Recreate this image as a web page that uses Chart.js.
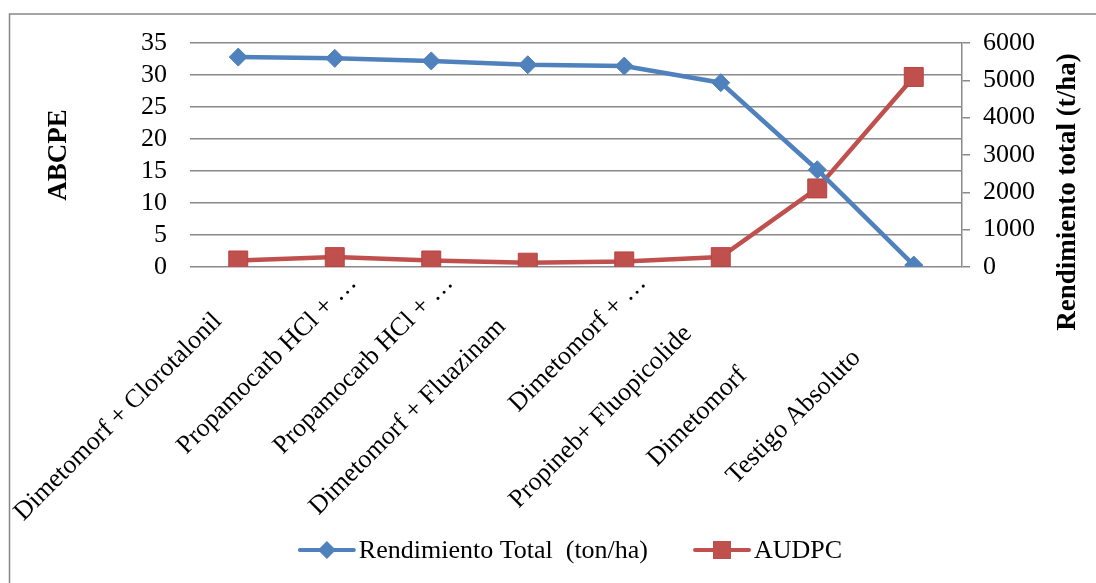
<!DOCTYPE html>
<html>
<head>
<meta charset="utf-8">
<script src="https://cdn.jsdelivr.net/npm/chart.js@4/dist/chart.umd.min.js"></script>
<style>
  html, body { margin: 0; padding: 0; background: #ffffff; }
  #wrap { width: 1096px; height: 583px; }
</style>
</head>
<body>
<div id="wrap"><canvas id="c" width="1096" height="583"></canvas></div>
<script>
const categories = [
  "Dimetomorf + Clorotalonil",
  "Propamocarb HCl + …",
  "Propamocarb HCl + …",
  "Dimetomorf + Fluazinam",
  "Dimetomorf + …",
  "Propineb+ Fluopicolide",
  "Dimetomorf",
  "Testigo Absoluto"
];
const rendimientoTotal = [32.8, 32.6, 32.2, 31.6, 31.4, 28.8, 15.2, 0.3];
const audpc = [175, 265, 175, 115, 150, 265, 2105, 5090];
const leftTicks = [0, 5, 10, 15, 20, 25, 30, 35];
const rightTicks = [0, 1000, 2000, 3000, 4000, 5000, 6000];
const seriesNames = ["Rendimiento Total  (ton/ha)", "AUDPC"];
const leftTitle = "ABCPE";
const rightTitle = "Rendimiento total (t/ha)";

const SERIF = '"Liberation Serif", "Times New Roman", serif';
const BLUE = '#4f81bd';
const RED = '#c0504d';
const GRID = '#8a8a8a';

const decor = {
  id: 'decor',
  beforeDraw(chart) {
    const ctx = chart.ctx;
    ctx.save();
    ctx.fillStyle = '#ffffff';
    ctx.fillRect(0, 0, chart.width, chart.height);
    ctx.strokeStyle = '#868686';
    ctx.lineWidth = 1.5;
    ctx.strokeRect(9.5, 14, chart.width + 20, chart.height + 20);
    ctx.restore();
  },
  afterDraw(chart) {
    const ctx = chart.ctx;
    const xs = chart.scales.x;
    const area = chart.chartArea;
    ctx.save();
    ctx.fillStyle = '#000000';
    // category labels, rotated 45 degrees
    ctx.font = '26px ' + SERIF;
    ctx.textBaseline = 'middle';
    categories.forEach((lab, i) => {
      const tx = xs.getPixelForValue(i);
      const lineC = tx + area.bottom + 30;
      const trunc = lab.endsWith('…');
      const cy = trunc ? area.bottom + 12 : area.bottom + 150;
      const cx = lineC - cy;
      ctx.save();
      ctx.translate(cx, cy);
      ctx.rotate(-Math.PI / 4);
      ctx.textAlign = trunc ? 'right' : 'center';
      ctx.fillText(lab, 0, 0);
      ctx.restore();
    });
    // axis titles
    ctx.font = 'bold 27px ' + SERIF;
    ctx.textAlign = 'center';
    ctx.textBaseline = 'middle';
    ctx.save();
    ctx.translate(59, (area.top + area.bottom) / 2);
    ctx.rotate(-Math.PI / 2);
    ctx.fillText(leftTitle, 0, 0);
    ctx.restore();
    ctx.save();
    ctx.translate(1068, (area.top + area.bottom) / 2 + 37);
    ctx.rotate(-Math.PI / 2);
    ctx.fillText(rightTitle, 0, 0);
    ctx.restore();
    // legend
    ctx.font = '26px ' + SERIF;
    const w1 = ctx.measureText(seriesNames[0]).width;
    const w2 = ctx.measureText(seriesNames[1]).width;
    const sample = 58, gap = 3, between = 45;
    const total = sample + gap + w1 + between + sample + gap + w2;
    let x = 570 - total / 2;
    const ly = 550;
    const drawSample = (x0, color, shape) => {
      ctx.strokeStyle = color;
      ctx.lineWidth = 4;
      ctx.lineCap = 'round';
      ctx.beginPath();
      ctx.moveTo(x0 + 2, ly);
      ctx.lineTo(x0 + sample - 2, ly);
      ctx.stroke();
      ctx.fillStyle = color;
      const mx = x0 + sample / 2;
      ctx.beginPath();
      if (shape === 'diamond') {
        ctx.moveTo(mx - 9, ly); ctx.lineTo(mx, ly - 9); ctx.lineTo(mx + 9, ly); ctx.lineTo(mx, ly + 9);
      } else {
        ctx.rect(mx - 9, ly - 9, 18, 18);
      }
      ctx.closePath();
      ctx.fill();
    };
    drawSample(x, BLUE, 'diamond');
    x += sample + gap;
    ctx.fillStyle = '#000000';
    ctx.textAlign = 'left';
    ctx.fillText(seriesNames[0], x, ly + 1);
    x += w1 + between;
    drawSample(x, RED, 'square');
    x += sample + gap;
    ctx.fillStyle = '#000000';
    ctx.fillText(seriesNames[1], x, ly + 1);
    ctx.restore();
  }
};

new Chart(document.getElementById('c'), {
  type: 'line',
  data: {
    labels: categories,
    datasets: [
      {
        label: seriesNames[0],
        data: rendimientoTotal,
        yAxisID: 'y',
        borderColor: BLUE,
        backgroundColor: BLUE,
        borderWidth: 4.5,
        pointStyle: 'rectRot',
        pointRadius: 9,
        pointBackgroundColor: BLUE,
        pointBorderColor: BLUE,
        pointBorderWidth: 1,
        tension: 0,
        fill: false
      },
      {
        label: seriesNames[1],
        data: audpc,
        yAxisID: 'y1',
        borderColor: RED,
        backgroundColor: RED,
        borderWidth: 4.5,
        pointStyle: 'rect',
        pointRadius: 13.4,
        pointBackgroundColor: RED,
        pointBorderColor: '#b9423f',
        pointBorderWidth: 1,
        tension: 0,
        fill: false
      }
    ]
  },
  options: {
    responsive: false,
    animation: false,
    events: [],
    layout: { padding: { top: 43, left: 0, right: 0, bottom: 0 } },
    plugins: {
      legend: { display: false },
      tooltip: { enabled: false },
      title: { display: false }
    },
    scales: {
      x: {
        type: 'category',
        offset: true,
        grid: { display: false },
        border: { display: false },
        ticks: { display: false },
        afterFit(s) { s.height = 316; }
      },
      y: {
        position: 'left',
        min: 0,
        max: 35,
        afterBuildTicks(s) { s.ticks = leftTicks.map(v => ({ value: v })); },
        grid: { color: GRID, lineWidth: 1.5, drawTicks: false },
        border: { display: false },
        ticks: {
          autoSkip: false,
          padding: 23,
          color: '#000000',
          font: { family: SERIF, size: 26 },
          callback: v => String(v)
        },
        afterFit(s) { s.width = 190; }
      },
      y1: {
        position: 'right',
        min: 0,
        max: 6000,
        afterBuildTicks(s) { s.ticks = rightTicks.map(v => ({ value: v })); },
        grid: { drawOnChartArea: false, drawTicks: true, tickLength: 8, color: GRID, lineWidth: 1.5 },
        border: { display: true, color: GRID, width: 1.5 },
        ticks: {
          autoSkip: false,
          padding: 13,
          color: '#000000',
          font: { family: SERIF, size: 26 },
          callback: v => String(v)
        },
        afterFit(s) { s.width = 134; }
      }
    }
  },
  plugins: [decor]
});
</script>
</body>
</html>
